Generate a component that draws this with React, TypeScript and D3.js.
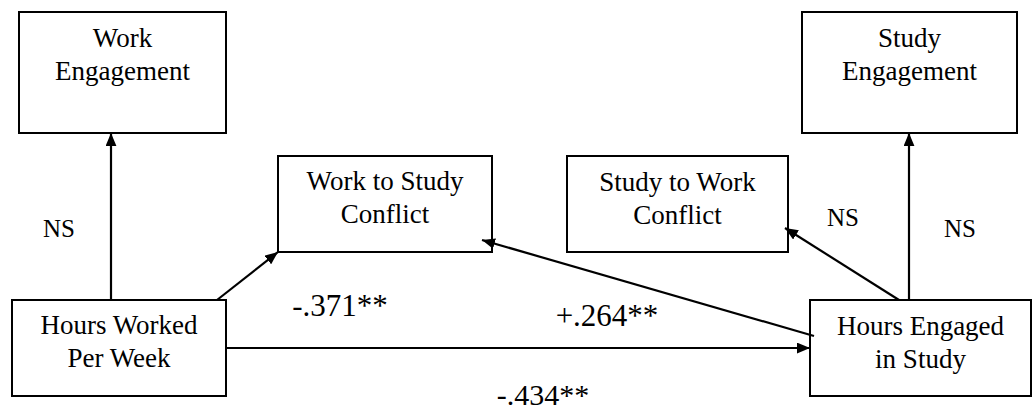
import * as d3 from "d3";
import * as React from "react";

// Constructs in the path model
const nodeIds = ["WE", "WSC", "HW", "SWC", "SE", "HES"];
const nodeLabels = [
  ["Work", "Engagement"],
  ["Work to Study", "Conflict"],
  ["Hours Worked", "Per Week"],
  ["Study to Work", "Conflict"],
  ["Study", "Engagement"],
  ["Hours Engaged", "in Study"],
];

// Paths (from -> to) and their coefficients
const pathFrom = ["HW", "HW", "HW", "HES", "HES", "HES"];
const pathTo = ["WE", "WSC", "HES", "WSC", "SWC", "SE"];
const pathLabels = ["NS", "-.371**", "-.434**", "+.264**", "NS", "NS"];

const W = 1034;
const H = 414;

// layout (pixels)
const boxes: Record<string, [number, number, number, number]> = {
  WE: [19, 12, 226, 133],
  WSC: [278, 156, 492, 252],
  HW: [12, 300, 226, 396],
  SWC: [567, 156, 788, 252],
  SE: [802, 12, 1017, 133],
  HES: [810, 300, 1031, 396],
};
const firstBaseline: Record<string, number> = {
  WE: 47, WSC: 190, HW: 334, SWC: 191, SE: 47, HES: 335,
};
const lineGap = 32.5;

// start / end anchors of each path
const pathEnds: [number, number, number, number][] = [
  [111, 300, 111, 133],
  [217, 300, 278, 252],
  [226, 348, 810, 348],
  [814, 336, 482, 240],
  [899, 300, 785, 228],
  [909, 300, 909, 133],
];
const labelPos: [number, number, number][] = [
  [59, 237, 25],
  [340, 316, 31],
  [543, 405, 30],
  [607, 326, 31],
  [843, 226, 25],
  [960, 237, 25],
];

const line = d3.line();

const PathDiagram: React.FC = () => {
  return (
    <svg
      width={W}
      height={H}
      className="pd"
      style={{ position: "absolute", left: 0, top: 0, background: "#fff" }}
    >
      <style>{`.pd text { font-family: "Liberation Serif", Tinos, "Times New Roman", serif; }`}</style>
      <defs>
        <marker
          id="head"
          viewBox="0 0 12 10"
          markerUnits="userSpaceOnUse"
          markerWidth={13}
          markerHeight={11}
          refX={12}
          refY={5}
          orient="auto"
        >
          <path d="M0,0 L12,5 L0,10 Z" fill="#000" />
        </marker>
      </defs>

      {/* Boxes */}
      {nodeIds.map((id, i) => {
        const [x0, y0, x1, y1] = boxes[id];
        const cx = (x0 + x1) / 2;
        return (
          <g key={id}>
            <rect
              x={x0}
              y={y0}
              width={x1 - x0}
              height={y1 - y0}
              fill="#fff"
              stroke="#000"
              strokeWidth={2}
            />
            {nodeLabels[i].map((t, j) => (
              <text
                key={j}
                x={cx}
                y={firstBaseline[id] + j * lineGap}
                textAnchor="middle"
                fontSize={27}
                fill="#000"
              >
                {t}
              </text>
            ))}
          </g>
        );
      })}

      {/* Paths */}
      {pathFrom.map((f, i) => {
        const [x1, y1, x2, y2] = pathEnds[i];
        return (
          <path
            key={f + pathTo[i]}
            d={line([
              [x1, y1],
              [x2, y2],
            ]) || ""}
            stroke="#000"
            strokeWidth={2.2}
            fill="none"
            markerEnd="url(#head)"
          />
        );
      })}

      {/* Coefficients */}
      {pathLabels.map((l, i) => (
        <text
          key={i}
          x={labelPos[i][0]}
          y={labelPos[i][1]}
          fontSize={labelPos[i][2]}
          textAnchor="middle"
          fill="#000"
        >
          {l}
        </text>
      ))}
    </svg>
  );
};

export default function App() {
  return <PathDiagram />;
}
